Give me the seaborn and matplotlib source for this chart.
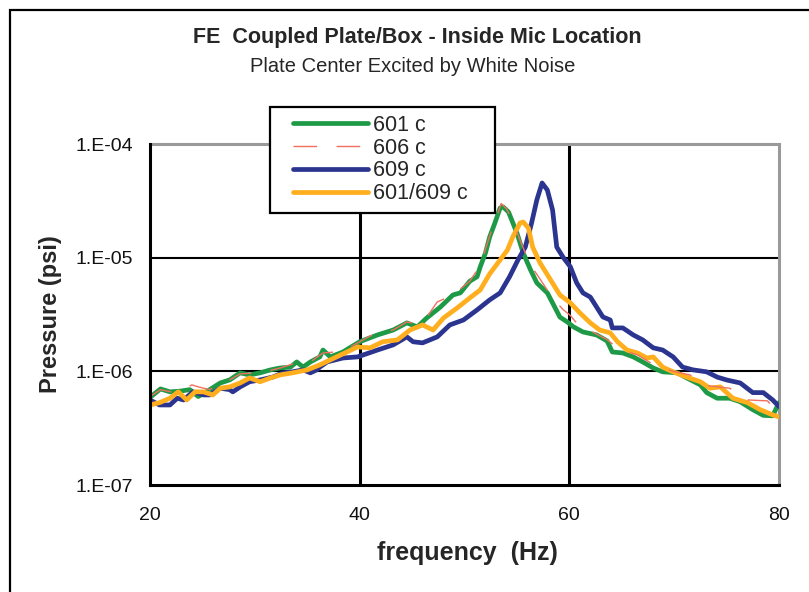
import numpy as np
import pandas as pd
import matplotlib
matplotlib.use("Agg")
import matplotlib.pyplot as plt
import seaborn as sns
from matplotlib.ticker import FixedLocator, FuncFormatter, NullLocator
from matplotlib.patches import Rectangle

# ---------------- data ----------------
f_601 = [20.0, 21.0, 21.9, 22.9, 23.8, 24.6, 25.7, 26.7, 27.6, 28.6, 29.5, 30.5, 31.5, 32.4,
         33.4, 34.0, 34.6, 35.3, 36.2, 36.5, 37.2, 38.4, 40.0, 41.7, 43.2, 44.5, 45.5, 46.4,
         47.7, 48.9, 49.6, 50.5, 51.2, 51.5, 52.0, 52.4, 52.9, 53.4, 53.7, 54.2, 54.5, 55.0,
         55.6, 56.3, 56.9, 57.9, 58.4, 59.1, 59.8, 60.4, 61.3, 62.6, 63.6, 64.1, 65.1, 66.1,
         67.0, 68.0, 68.9, 70.3, 71.2, 72.5, 73.1, 74.1, 75.3, 76.3, 77.5, 78.5, 79.4, 80.0]
p_601 = [5.9e-7, 7.0e-7, 6.6e-7, 6.7e-7, 6.9e-7, 6.0e-7, 6.9e-7, 7.9e-7, 8.4e-7, 9.7e-7,
         9.3e-7, 9.7e-7, 1.03e-6, 1.07e-6, 1.09e-6, 1.21e-6, 1.09e-6, 1.21e-6, 1.34e-6, 1.54e-6,
         1.34e-6, 1.48e-6, 1.82e-6, 2.09e-6, 2.31e-6, 2.67e-6, 2.46e-6, 2.95e-6, 3.68e-6, 4.7e-6,
         4.9e-6, 6.2e-6, 6.8e-6, 8.3e-6, 1.1e-5, 1.52e-5, 2.02e-5, 2.74e-5, 2.79e-5, 2.52e-5,
         2.15e-5, 1.65e-5, 1.1e-5, 7.8e-6, 6.0e-6, 4.9e-6, 4.0e-6, 3.0e-6, 2.72e-6, 2.46e-6,
         2.22e-6, 2.09e-6, 1.85e-6, 1.48e-6, 1.45e-6, 1.34e-6, 1.21e-6, 1.07e-6, 9.9e-7, 9.7e-7,
         8.75e-7, 7.6e-7, 6.5e-7, 5.8e-7, 5.8e-7, 5.4e-7, 4.6e-7, 4.1e-7, 4.06e-7, 5.3e-7]

f_606 = [20.0, 21.0, 22.0, 23.0, 24.0, 24.6, 25.7, 26.7, 27.6, 28.6, 30.5, 32.4, 34.0, 35.3,
         36.5, 38.4, 40.0, 41.0, 43.2, 44.5, 45.5, 46.4, 47.4, 48.9, 50.5, 51.5, 52.4, 53.0,
         53.5, 54.0, 54.6, 55.2, 55.8, 56.3, 57.2, 58.4, 59.4, 60.1, 61.0, 62.3, 63.6, 64.8,
         66.5, 68.0, 69.9, 71.5, 73.1, 75.3, 77.0, 78.9, 80.0]
p_606 = [6.0e-7, 6.9e-7, 6.6e-7, 6.8e-7, 7.6e-7, 7.3e-7, 6.9e-7, 7.9e-7, 8.4e-7, 9.5e-7,
         9.7e-7, 1.07e-6, 1.19e-6, 1.21e-6, 1.45e-6, 1.5e-6, 1.82e-6, 2.05e-6, 2.31e-6, 2.72e-6,
         2.6e-6, 3.0e-6, 4.08e-6, 4.7e-6, 6.2e-6, 8.5e-6, 1.55e-5, 2.2e-5, 3.0e-5, 2.7e-5,
         2.1e-5, 1.5e-5, 1.1e-5, 8.6e-6, 6.5e-6, 4.4e-6, 3.5e-6, 3.1e-6, 2.46e-6, 2.2e-6,
         1.9e-6, 1.55e-6, 1.4e-6, 1.15e-6, 1.0e-6, 9.3e-7, 7.5e-7, 7.1e-7, 5.6e-7, 5.5e-7, 4.2e-7]

f_609 = [20.0, 20.9, 21.9, 22.6, 23.2, 24.1, 25.1, 25.7, 26.7, 27.6, 27.9, 28.6, 29.5, 30.5,
         31.7, 32.7, 33.6, 34.6, 35.3, 35.9, 36.2, 36.9, 38.4, 39.8, 41.7, 43.2, 44.5, 45.1,
         46.0, 47.4, 48.6, 49.9, 51.2, 52.4, 53.4, 54.3, 55.1, 55.8, 56.4, 56.9, 57.4, 57.9,
         58.4, 58.8, 59.4, 60.1, 60.7, 61.3, 62.0, 62.6, 63.2, 63.9, 64.1, 65.1, 66.1, 67.0,
         68.0, 68.9, 69.9, 70.8, 71.8, 73.1, 74.1, 75.0, 76.3, 77.5, 78.5, 79.4, 80.0]
p_609 = [5.6e-7, 5.06e-7, 5.06e-7, 5.8e-7, 5.6e-7, 6.6e-7, 6.2e-7, 6.2e-7, 7.1e-7, 6.9e-7,
         6.6e-7, 7.3e-7, 8.1e-7, 8.4e-7, 8.9e-7, 9.7e-7, 9.9e-7, 1.03e-6, 9.7e-7, 1.03e-6,
         1.09e-6, 1.21e-6, 1.31e-6, 1.34e-6, 1.54e-6, 1.71e-6, 2.01e-6, 1.82e-6, 1.78e-6, 2.01e-6,
         2.56e-6, 2.83e-6, 3.47e-6, 4.25e-6, 4.9e-6, 6.8e-6, 9.55e-6, 1.24e-5, 2.02e-5, 3.22e-5,
         4.54e-5, 3.94e-5, 2.63e-5, 1.24e-5, 1.01e-5, 8.3e-6, 6.0e-6, 4.9e-6, 4.5e-6, 3.68e-6,
         3.01e-6, 2.83e-6, 2.41e-6, 2.41e-6, 2.09e-6, 1.89e-6, 1.61e-6, 1.54e-6, 1.34e-6, 1.09e-6,
         1.03e-6, 9.9e-7, 8.9e-7, 8.4e-7, 7.9e-7, 6.5e-7, 6.5e-7, 5.6e-7, 4.9e-7]

f_601_609 = [20.0, 20.9, 21.9, 22.7, 23.5, 24.3, 25.1, 26.0, 26.7, 27.6, 28.6, 29.5, 30.5, 31.5,
             32.4, 33.6, 35.0, 36.2, 37.8, 39.8, 41.0, 42.2, 43.6, 44.8, 46.0, 47.0, 48.0, 49.3,
             50.5, 51.5, 52.4, 53.4, 54.1, 54.6, 55.3, 55.6, 56.1, 56.5, 57.2, 58.2, 59.1, 60.1,
             61.0, 62.0, 62.9, 63.9, 64.6, 65.5, 66.5, 67.4, 68.0, 68.9, 69.9, 71.2, 72.5, 73.4,
             74.4, 75.6, 77.0, 78.2, 79.4, 80.0]
p_601_609 = [5.06e-7, 5.3e-7, 5.8e-7, 6.6e-7, 5.6e-7, 6.6e-7, 6.6e-7, 6.2e-7, 7.1e-7, 7.3e-7,
             7.9e-7, 8.75e-7, 8.1e-7, 8.75e-7, 9.3e-7, 9.7e-7, 1.03e-6, 1.14e-6, 1.34e-6, 1.64e-6,
             1.61e-6, 1.82e-6, 1.89e-6, 2.31e-6, 2.56e-6, 2.31e-6, 2.95e-6, 3.61e-6, 4.42e-6, 5.2e-6,
             7.2e-6, 9.55e-6, 1.17e-5, 1.52e-5, 2.02e-5, 2.06e-5, 1.82e-5, 1.24e-5, 9.0e-6, 6.4e-6,
             4.7e-6, 4.0e-6, 3.27e-6, 2.67e-6, 2.31e-6, 2.18e-6, 1.82e-6, 1.54e-6, 1.45e-6, 1.31e-6,
             1.34e-6, 1.09e-6, 9.9e-7, 8.9e-7, 8.1e-7, 7.1e-7, 7.3e-7, 5.8e-7, 5.3e-7, 4.6e-7,
             4.14e-7, 3.97e-7]

series_labels = ["601 c", "606 c", "609 c", "601/609 c"]
x_ticks = [20, 40, 60, 80]
y_ticks = [1e-7, 1e-6, 1e-5, 1e-4]

# ---------------- styling ----------------
sns.set_style("white")
plt.rcParams["font.family"] = ["Liberation Sans", "DejaVu Sans"]

W, H = 809, 592
fig = plt.figure(figsize=(W / 100, H / 100), dpi=100)
ax = fig.add_axes([150 / W, 1 - 485 / H, 629 / W, 341 / H])

# outer frame of the chart area
fig.add_artist(Rectangle((10 / W, -0.5), 2.0, 0.5 + (1 - 10 / H), transform=fig.transFigure,
                         fill=False, edgecolor="black", linewidth=1.6, zorder=0))

def make_df(f, p, name):
    return pd.DataFrame({"frequency": f, "pressure": p, "series": name})

styles = [
    (f_601, p_601, series_labels[0], dict(color="#1E9A47", lw=3.4)),
    (f_606, p_606, series_labels[1], dict(color="#F0705F", lw=1.0, dashes=(17, 14))),
    (f_609, p_609, series_labels[2], dict(color="#2B3590", lw=3.4)),
    (f_601_609, p_601_609, series_labels[3], dict(color="#FFAE1E", lw=3.4)),
]
handles = []
for f, p, name, st in styles:
    df = make_df(f, p, name)
    sns.lineplot(data=df, x="frequency", y="pressure", ax=ax, color=st["color"],
                 linewidth=st["lw"], label=name, legend=False, zorder=3,
                 solid_capstyle="round")
    line = ax.lines[-1]
    if "dashes" in st:
        line.set_dashes(st["dashes"])
    handles.append(line)

ax.lines[0].set_zorder(3)
ax.lines[2].set_zorder(3.2)
ax.lines[3].set_zorder(3.4)
ax.lines[1].set_zorder(3.6)

ax.set_yscale("log")
ax.set_xlim(20, 80)
ax.set_ylim(1e-7, 1e-4)
ax.xaxis.set_major_locator(FixedLocator(x_ticks))
ax.yaxis.set_major_locator(FixedLocator(y_ticks))
ax.yaxis.set_minor_locator(NullLocator())
ax.xaxis.set_minor_locator(NullLocator())
ax.yaxis.set_major_formatter(FuncFormatter(lambda v, pos: "1.E%03d" % int(round(np.log10(v)))))
ax.xaxis.set_major_formatter(FuncFormatter(lambda v, pos: "%d" % v))

for xv in x_ticks[1:-1]:
    ax.axvline(xv, color="black", lw=2.2, zorder=1)
for yv in y_ticks[1:-1]:
    ax.axhline(yv, color="black", lw=1.5, zorder=1)

for s in ["left", "bottom"]:
    ax.spines[s].set_color("black")
    ax.spines[s].set_linewidth(2.2)
for s in ["top", "right"]:
    ax.spines[s].set_color("#9A9A9A")
    ax.spines[s].set_linewidth(2.2)
ax.spines["left"].set_zorder(4)
ax.spines["bottom"].set_zorder(4)

ax.tick_params(axis="both", which="major", direction="out", length=4, width=2,
               color="black", labelsize=14, labelcolor="#111111")
ax.tick_params(axis="y", pad=8)
ax.tick_params(axis="x", pad=12)

ax.set_xlabel("frequency  (Hz)", fontsize=18, fontweight="bold")
ax.set_ylabel("Pressure (psi)", fontsize=17, fontweight="bold")
ax.xaxis.set_label_coords(0.504, -0.165)
ax.yaxis.set_label_coords(-0.14, 0.5)

fig.text(417 / W, 1 - 38 / H, "FE  Coupled Plate/Box - Inside Mic Location", ha="center",
         va="center", fontsize=15.5, fontweight="bold")
fig.text(413 / W, 1 - 66 / H, "Plate Center Excited by White Noise", ha="center",
         va="center", fontsize=14.5)

# legend box
fig.add_artist(Rectangle((270 / W, 1 - 213 / H), 225 / W, 106 / H, transform=fig.transFigure,
                         facecolor="white", edgecolor="black", linewidth=1.6, zorder=5))
leg = fig.legend(handles=handles, labels=series_labels, loc="upper left",
                 bbox_to_anchor=(293 / W, 1 - 115 / H), bbox_transform=fig.transFigure,
                 frameon=False, fontsize=15.5, handlelength=3.5, handletextpad=0.2,
                 labelspacing=0.08, borderpad=0, borderaxespad=0)
leg.set_zorder(6)

fig.savefig("out.png", dpi=100)
